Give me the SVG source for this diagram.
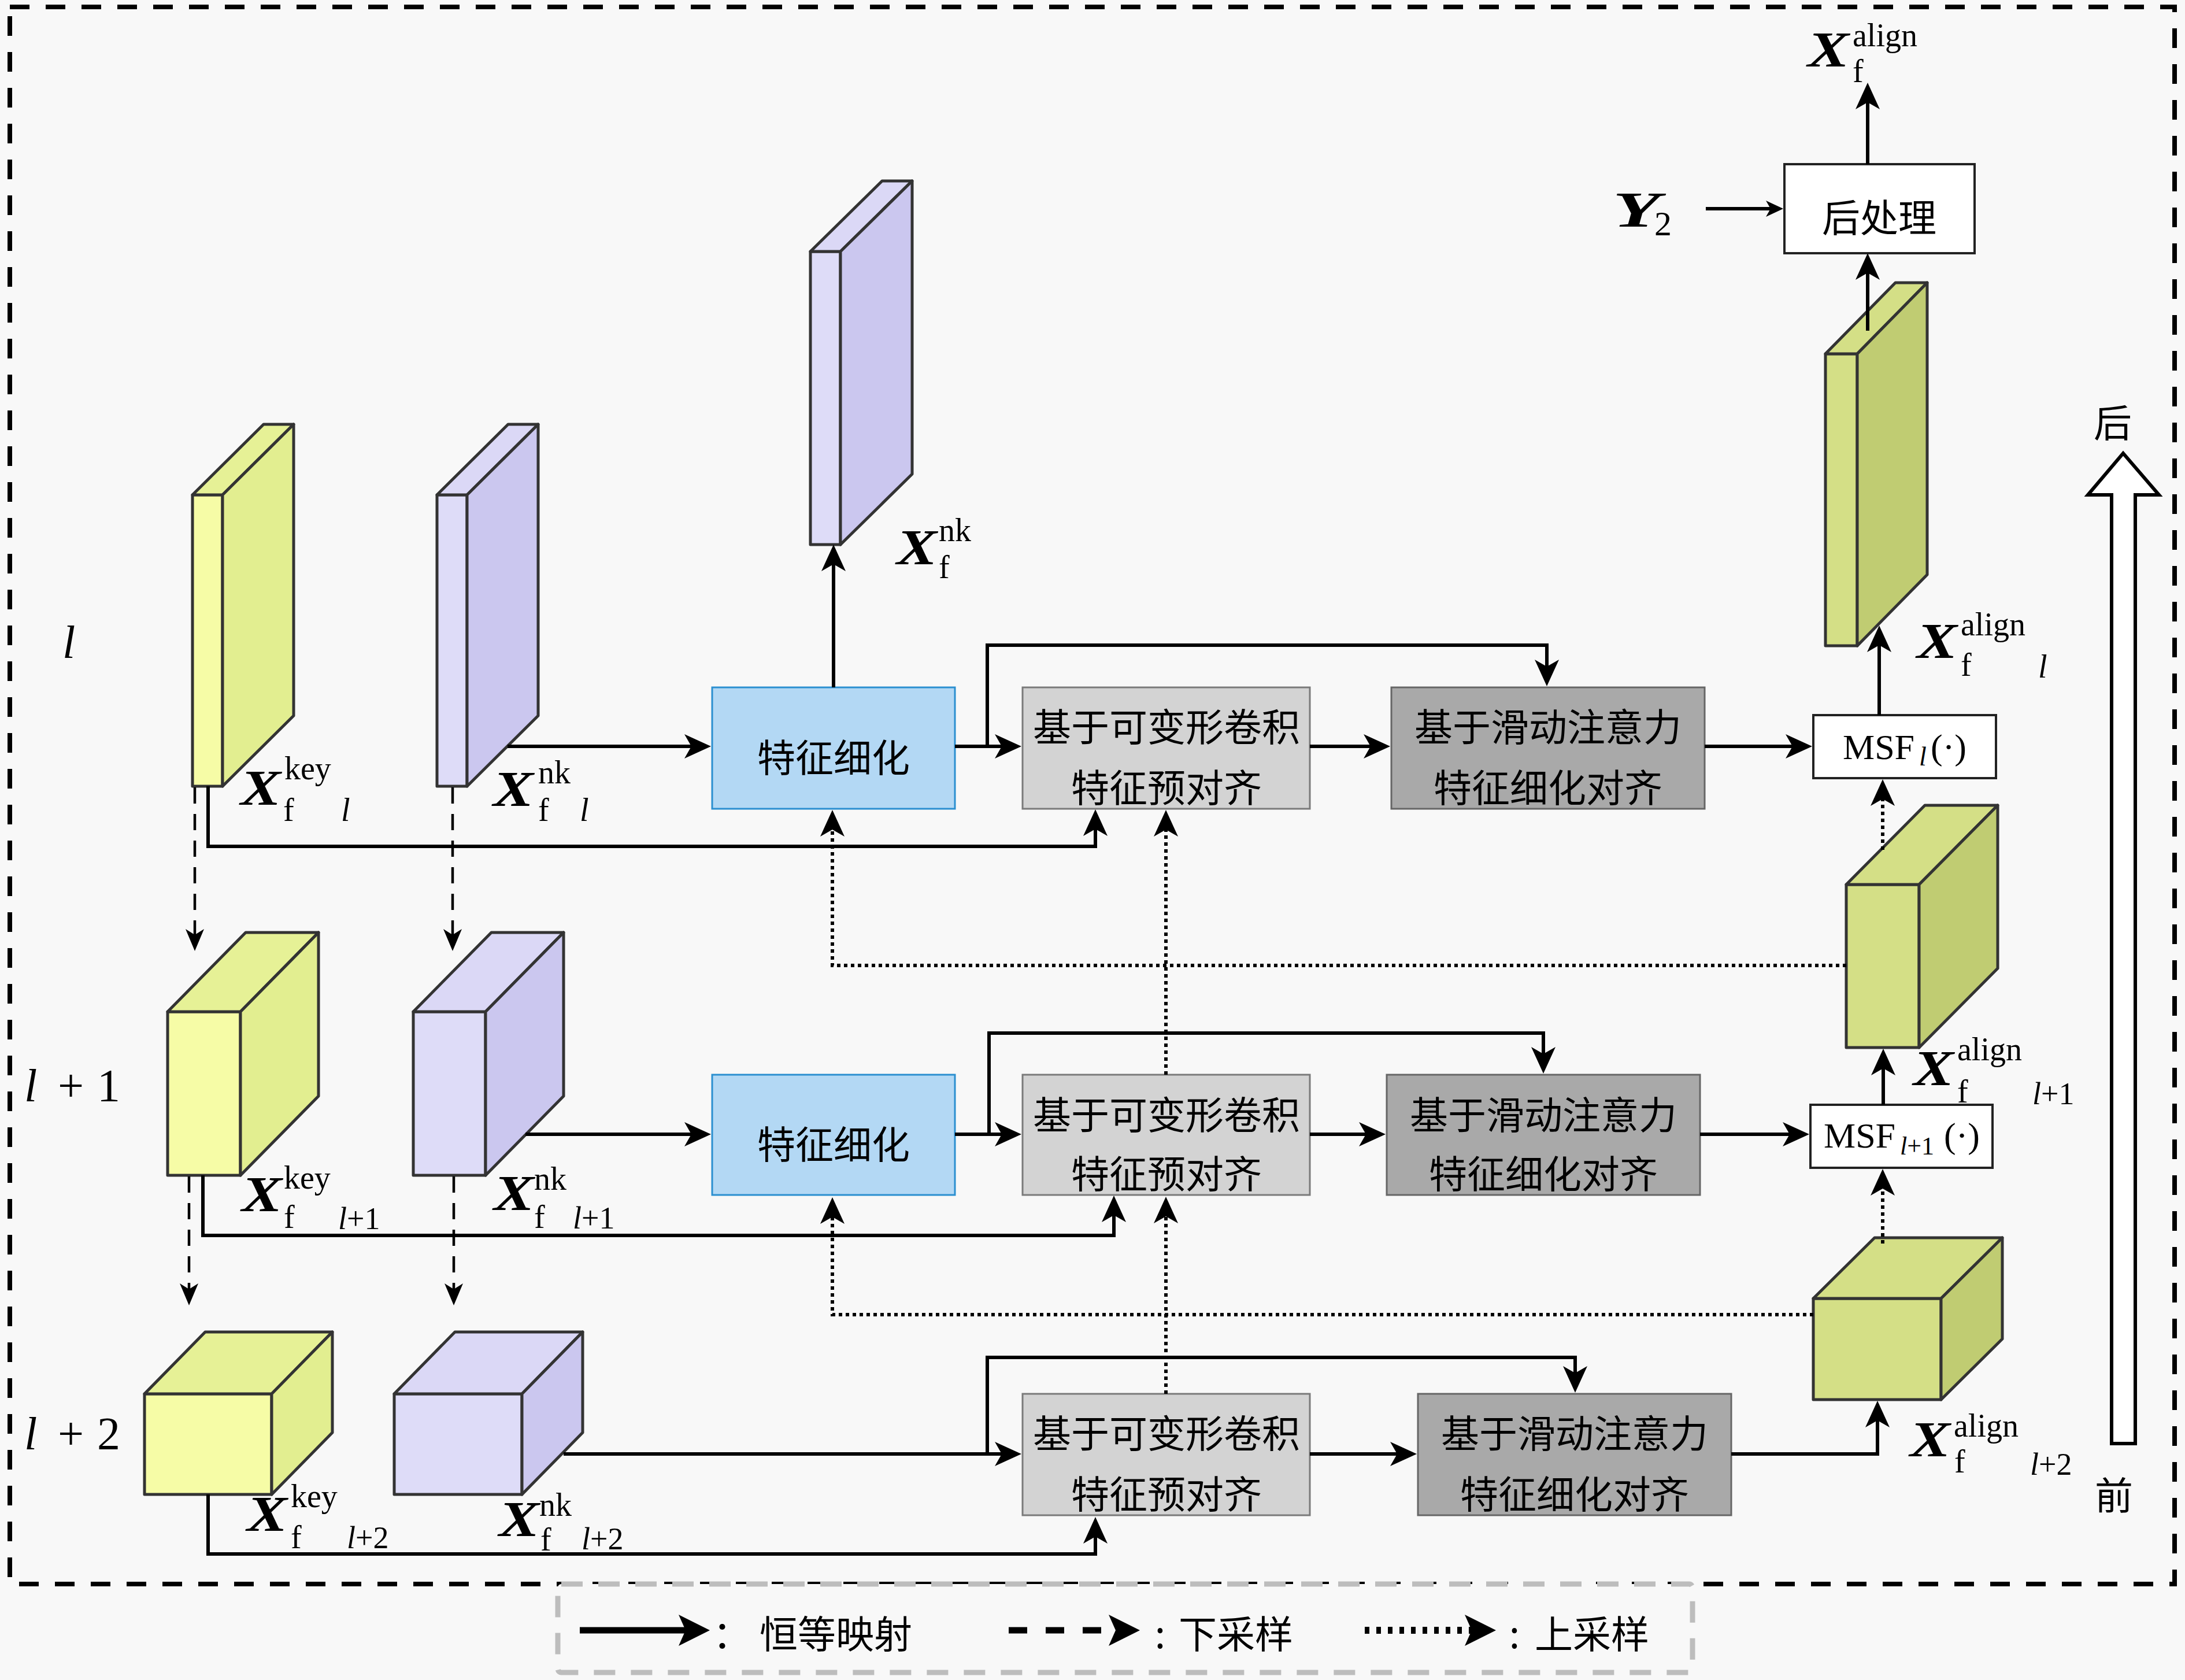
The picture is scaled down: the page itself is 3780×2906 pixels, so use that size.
<svg xmlns="http://www.w3.org/2000/svg" width="3780" height="2906" viewBox="0 0 3780 2906">
<style>
.cjk{font-family:"Noto Sans CJK SC",sans-serif;font-size:66px;text-anchor:middle;dominant-baseline:central;fill:#000}
.m{font-family:"Liberation Serif",serif;fill:#000}
.X{font-family:"Liberation Serif",serif;font-weight:bold;font-style:italic;font-size:86px;fill:#000}
.sp{font-family:"Liberation Serif",serif;font-size:56px;fill:#000}
.it{font-style:italic}
.sl{font-family:"Liberation Serif",serif;font-size:54px;fill:#000}
.ln{fill:none;stroke:#000;stroke-width:6}
.dsh{fill:none;stroke:#000;stroke-width:4.5;stroke-dasharray:28 18}
.dot{fill:none;stroke:#000;stroke-width:6;stroke-dasharray:6 6}
.cb{stroke:#333;stroke-width:5;stroke-linejoin:round}
.kf{fill:#f6fca6}.ks{fill:#e2ee90}.kt{fill:#e6f196}
.nf{fill:#dedcf8}.ns{fill:#cbc7ef}.nt{fill:#dbd8f6}
.af{fill:#d4df86}.as{fill:#c0cc72}.at{fill:#d4df86}
.blue{fill:#b3d8f4;stroke:#2b8fd0;stroke-width:3}
.dcn{fill:#d3d3d3;stroke:#7a7a7a;stroke-width:3}
.sld{fill:#a9a9a9;stroke:#666;stroke-width:3}
.wb{fill:#fff;stroke:#222;stroke-width:4}
</style>
<defs>
<marker id="a" markerUnits="userSpaceOnUse" markerWidth="52" markerHeight="46" viewBox="-50 -23 52 46" refX="-15" refY="0" orient="auto" overflow="visible"><path d="M0,0 L-46,-21 L-34,0 L-46,21 Z" fill="#000"/></marker>
<marker id="d" markerUnits="userSpaceOnUse" markerWidth="44" markerHeight="36" viewBox="-42 -18 44 36" refX="-12" refY="0" orient="auto" overflow="visible"><path d="M0,0 L-38,-16 L-28,0 L-38,16 Z" fill="#000"/></marker>
<marker id="s" markerUnits="userSpaceOnUse" markerWidth="34" markerHeight="32" viewBox="-32 -16 34 32" refX="-10" refY="0" orient="auto" overflow="visible"><path d="M0,0 L-30,-14 L-22,0 L-30,14 Z" fill="#000"/></marker>
<marker id="L" markerUnits="userSpaceOnUse" markerWidth="58" markerHeight="58" viewBox="-56 -29 58 58" refX="-20" refY="0" orient="auto" overflow="visible"><path d="M0,0 L-54,-27 L-42,0 L-54,27 Z" fill="#000"/></marker>
</defs>
<rect x="0" y="0" width="3780" height="2906" fill="#f8f8f8"/>
<rect x="17" y="12" width="3745" height="2728" fill="none" stroke="#000" stroke-width="8" stroke-dasharray="34 28"/>

<g id="level-labels">
<text class="m it" x="108" y="1138" font-size="80">l</text>
<text class="m" y="1905" font-size="80"><tspan x="42" font-style="italic">l</tspan><tspan x="100">+</tspan><tspan x="168">1</tspan></text>
<text class="m" y="2507" font-size="80"><tspan x="42" font-style="italic">l</tspan><tspan x="100">+</tspan><tspan x="168">2</tspan></text>
</g>

<g id="key-l">
<rect class="cb kf" x="333" y="856" width="52" height="504"/>
<polygon class="cb kt" points="333,856 456,734 508,734 385,856"/>
<polygon class="cb ks" points="385,856 508,734 508,1238 385,1360"/>
</g>
<g id="nk-l">
<rect class="cb nf" x="756" y="856" width="52" height="504"/>
<polygon class="cb nt" points="756,856 879,734 931,734 808,856"/>
<polygon class="cb ns" points="808,856 931,734 931,1238 808,1360"/>
</g>
<g id="nk-out">
<rect class="cb nf" x="1402" y="435" width="52" height="507"/>
<polygon class="cb nt" points="1402,435 1526,313 1578,313 1454,435"/>
<polygon class="cb ns" points="1454,435 1578,313 1578,820 1454,942"/>
</g>
<g id="align-l">
<rect class="cb af" x="3158" y="612" width="55" height="505"/>
<polygon class="cb at" points="3158,612 3279,489 3334,489 3213,612"/>
<polygon class="cb as" points="3213,612 3334,489 3334,994 3213,1117"/>
</g>
<g id="key-l1">
<rect class="cb kf" x="290" y="1750" width="126" height="283"/>
<polygon class="cb kt" points="290,1750 425,1613 551,1613 416,1750"/>
<polygon class="cb ks" points="416,1750 551,1613 551,1896 416,2033"/>
</g>
<g id="nk-l1">
<rect class="cb nf" x="715" y="1750" width="125" height="283"/>
<polygon class="cb nt" points="715,1750 850,1613 975,1613 840,1750"/>
<polygon class="cb ns" points="840,1750 975,1613 975,1896 840,2033"/>
</g>
<g id="align-l1">
<rect class="cb af" x="3194" y="1530" width="126" height="282"/>
<polygon class="cb at" points="3194,1530 3330,1393 3456,1393 3320,1530"/>
<polygon class="cb as" points="3320,1530 3456,1393 3456,1675 3320,1812"/>
</g>
<g id="key-l2">
<rect class="cb kf" x="250" y="2411" width="220" height="174"/>
<polygon class="cb kt" points="250,2411 355,2304 575,2304 470,2411"/>
<polygon class="cb ks" points="470,2411 575,2304 575,2478 470,2585"/>
</g>
<g id="nk-l2">
<rect class="cb nf" x="682" y="2411" width="221" height="174"/>
<polygon class="cb nt" points="682,2411 787,2304 1008,2304 903,2411"/>
<polygon class="cb ns" points="903,2411 1008,2304 1008,2478 903,2585"/>
</g>
<g id="align-l2">
<rect class="cb af" x="3137" y="2246" width="221" height="175"/>
<polygon class="cb at" points="3137,2246 3243,2141 3464,2141 3358,2246"/>
<polygon class="cb as" points="3358,2246 3464,2141 3464,2316 3358,2421"/>
</g>

<g id="refine-l">
<rect class="blue" x="1232" y="1189" width="420" height="210"/>
<text class="cjk" x="1442" y="1306">特征细化</text>
</g>
<g id="deform-l">
<rect class="dcn" x="1769" y="1189" width="497" height="210"/>
<text class="cjk" x="2018" y="1253">基于可变形卷积</text>
<text class="cjk" x="2018" y="1358">特征预对齐</text>
</g>
<g id="slide-l">
<rect class="sld" x="2407" y="1189" width="542" height="210"/>
<text class="cjk" x="2678" y="1253">基于滑动注意力</text>
<text class="cjk" x="2678" y="1358">特征细化对齐</text>
</g>
<g id="msf-l">
<rect class="wb" x="3137" y="1237" width="316" height="109"/>
<text class="m" y="1313" font-size="62"><tspan x="3188">MSF</tspan><tspan x="3320" y="1324" font-size="46" font-style="italic">l</tspan><tspan x="3340" y="1313">(·)</tspan></text>
</g>
<g id="refine-l1">
<rect class="blue" x="1232" y="1859" width="420" height="208"/>
<text class="cjk" x="1442" y="1975">特征细化</text>
</g>
<g id="deform-l1">
<rect class="dcn" x="1769" y="1859" width="497" height="208"/>
<text class="cjk" x="2018" y="1924">基于可变形卷积</text>
<text class="cjk" x="2018" y="2026">特征预对齐</text>
</g>
<g id="slide-l1">
<rect class="sld" x="2399" y="1859" width="542" height="208"/>
<text class="cjk" x="2670" y="1924">基于滑动注意力</text>
<text class="cjk" x="2670" y="2026">特征细化对齐</text>
</g>
<g id="msf-l1">
<rect class="wb" x="3132" y="1911" width="315" height="109"/>
<text class="m" y="1985" font-size="62"><tspan x="3155">MSF</tspan><tspan x="3287" y="1997" font-size="44" font-style="italic">l</tspan><tspan y="1997" font-size="44">+1</tspan><tspan x="3363" y="1985">(·)</tspan></text>
</g>
<g id="deform-l2">
<rect class="dcn" x="1769" y="2411" width="497" height="210"/>
<text class="cjk" x="2018" y="2475">基于可变形卷积</text>
<text class="cjk" x="2018" y="2580">特征预对齐</text>
</g>
<g id="slide-l2">
<rect class="sld" x="2453" y="2411" width="542" height="210"/>
<text class="cjk" x="2724" y="2475">基于滑动注意力</text>
<text class="cjk" x="2724" y="2580">特征细化对齐</text>
</g>
<g id="post">
<rect class="wb" x="3087" y="284" width="329" height="154" stroke-width="3"/>
<text class="cjk" x="3251" y="372">后处理</text>
</g>

<g id="dir-arrow">
<polygon points="3653,2497 3653,856 3612,856 3673,784 3735,856 3694,856 3694,2497" fill="#fff" stroke="#000" stroke-width="6" stroke-linejoin="miter"/>
<text class="cjk" x="3655" y="727" font-size="60">后</text>
<text class="cjk" x="3657" y="2582" font-size="60">前</text>
</g>

<g id="connectors">
<path class="ln" d="M878,1291 H1215" marker-end="url(#a)"/>
<path class="ln" d="M1442,1189 V957" marker-end="url(#a)"/>
<path class="ln" d="M1652,1291 H1752" marker-end="url(#a)"/>
<path class="ln" d="M1708,1291 V1116 H2676 V1172" marker-end="url(#a)"/>
<path class="ln" d="M2266,1291 H2390" marker-end="url(#a)"/>
<path class="ln" d="M2949,1291 H3120" marker-end="url(#a)"/>
<path class="ln" d="M3251,1237 V1097" marker-end="url(#a)"/>
<path class="ln" d="M3231,572 V453" marker-end="url(#a)"/>
<path class="ln" d="M3231,284 V158" marker-end="url(#a)"/>
<path class="ln" d="M2951,361 H3075" stroke-width="4" marker-end="url(#s)"/>
<path class="ln" d="M360,1360 V1464 H1895 V1415" marker-end="url(#a)"/>
<path class="ln" d="M909,1962 H1215" marker-end="url(#a)"/>
<path class="ln" d="M1652,1962 H1752" marker-end="url(#a)"/>
<path class="ln" d="M1711,1962 V1787 H2670 V1842" marker-end="url(#a)"/>
<path class="ln" d="M2266,1962 H2382" marker-end="url(#a)"/>
<path class="ln" d="M2941,1962 H3115" marker-end="url(#a)"/>
<path class="ln" d="M3258,1911 V1829" marker-end="url(#a)"/>
<path class="ln" d="M351,2033 V2137 H1927 V2083" marker-end="url(#a)"/>
<path class="ln" d="M975,2515 H1752" marker-end="url(#a)"/>
<path class="ln" d="M1708,2515 V2348 H2725 V2394" marker-end="url(#a)"/>
<path class="ln" d="M2266,2515 H2436" marker-end="url(#a)"/>
<path class="ln" d="M2995,2515 H3248 V2438" marker-end="url(#a)"/>
<path class="ln" d="M360,2585 V2688 H1895 V2639" marker-end="url(#a)"/>
<path class="dsh" d="M337,1362 V1633" marker-end="url(#d)"/>
<path class="dsh" d="M783,1362 V1633" marker-end="url(#d)"/>
<path class="dsh" d="M327,2035 V2246" marker-end="url(#d)"/>
<path class="dsh" d="M785,2035 V2246" marker-end="url(#d)"/>
<path class="dot" d="M3194,1670 H1440 V1416" marker-end="url(#a)"/>
<path class="dot" d="M3137,2274 H1440 V2086" marker-end="url(#a)"/>
<path class="dot" d="M2017,1859 V1416" marker-end="url(#a)"/>
<path class="dot" d="M2017,2411 V2085" marker-end="url(#a)"/>
<path class="dot" d="M3257,1470 V1363" marker-end="url(#a)"/>
<path class="dot" d="M3257,2151 V2037" marker-end="url(#a)"/>
</g>

<g id="labels">
<text class="X" x="416" y="1392" textLength="70" lengthAdjust="spacingAndGlyphs">X</text><text class="sp" x="492" y="1348">key</text><text class="sp" x="490" y="1420">f</text><text class="sp it" x="590" y="1420" font-size="58">l</text>
<text class="X" x="853" y="1394" textLength="70" lengthAdjust="spacingAndGlyphs">X</text><text class="sp" x="931" y="1355">nk</text><text class="sp" x="931" y="1420">f</text><text class="sp it" x="1003" y="1420" font-size="58">l</text>
<text class="X" x="1551" y="976" textLength="70" lengthAdjust="spacingAndGlyphs">X</text><text class="sp" x="1624" y="936">nk</text><text class="sp" x="1624" y="1000" font-size="52">f</text>
<text class="X" x="418" y="2095" textLength="70" lengthAdjust="spacingAndGlyphs">X</text><text class="sp" x="491" y="2056">key</text><text class="sp" x="491" y="2124">f</text><text class="sl" x="585" y="2126"><tspan font-style="italic">l</tspan>+1</text>
<text class="X" x="854" y="2093" textLength="70" lengthAdjust="spacingAndGlyphs">X</text><text class="sp" x="924" y="2058">nk</text><text class="sp" x="924" y="2124">f</text><text class="sl" x="991" y="2125"><tspan font-style="italic">l</tspan>+1</text>
<text class="X" x="427" y="2648" textLength="70" lengthAdjust="spacingAndGlyphs">X</text><text class="sp" x="503" y="2607">key</text><text class="sp" x="503" y="2678">f</text><text class="sl" x="600" y="2678"><tspan font-style="italic">l</tspan>+2</text>
<text class="X" x="863" y="2657" textLength="70" lengthAdjust="spacingAndGlyphs">X</text><text class="sp" x="933" y="2622">nk</text><text class="sp" x="935" y="2682">f</text><text class="sl" x="1006" y="2680"><tspan font-style="italic">l</tspan>+2</text>
<text class="X" x="3316" y="1138" textLength="70" lengthAdjust="spacingAndGlyphs">X</text><text class="sp" x="3392" y="1099">align</text><text class="sp" x="3392" y="1169">f</text><text class="sp it" x="3526" y="1172" font-size="58">l</text>
<text class="X" x="3310" y="1877" textLength="70" lengthAdjust="spacingAndGlyphs">X</text><text class="sp" x="3386" y="1834">align</text><text class="sp" x="3386" y="1907">f</text><text class="sl" x="3516" y="1910"><tspan font-style="italic">l</tspan>+1</text>
<text class="X" x="3304" y="2519" textLength="70" lengthAdjust="spacingAndGlyphs">X</text><text class="sp" x="3380" y="2485">align</text><text class="sp" x="3381" y="2547">f</text><text class="sl" x="3512" y="2551"><tspan font-style="italic">l</tspan>+2</text>
<text class="X" x="3127" y="115" textLength="72" lengthAdjust="spacingAndGlyphs">X</text><text class="sp" x="3205" y="80" font-size="58">align</text><text class="sp" x="3205" y="142">f</text>
<text class="X" x="2790" y="392" font-size="100" textLength="82" lengthAdjust="spacingAndGlyphs">Y</text><text class="m" x="2862" y="407" font-size="60">2</text>
</g>

<g id="legend">
<rect x="965" y="2740" width="1963" height="153" rx="6" fill="#f8f8f8" stroke="#bdbdbd" stroke-width="9" stroke-dasharray="37 27"/>
<path d="M1003,2820 H1208" fill="none" stroke="#000" stroke-width="11" marker-end="url(#L)"/>
<text class="cjk" x="1266" y="2822" font-size="64">：</text>
<text class="cjk" x="1446" y="2822" font-size="64">恒等映射</text>
<path d="M1745,2820 H1952" fill="none" stroke="#000" stroke-width="11" stroke-dasharray="32 32" marker-end="url(#L)"/>
<text class="cjk" x="2007" y="2822" font-size="64">:</text>
<text class="cjk" x="2138" y="2822" font-size="64">下采样</text>
<path d="M2361,2820 H2568" fill="none" stroke="#000" stroke-width="12" stroke-dasharray="8 12" marker-end="url(#L)"/>
<text class="cjk" x="2620" y="2822" font-size="64">:</text>
<text class="cjk" x="2754" y="2822" font-size="64">上采样</text>
</g>
</svg>
